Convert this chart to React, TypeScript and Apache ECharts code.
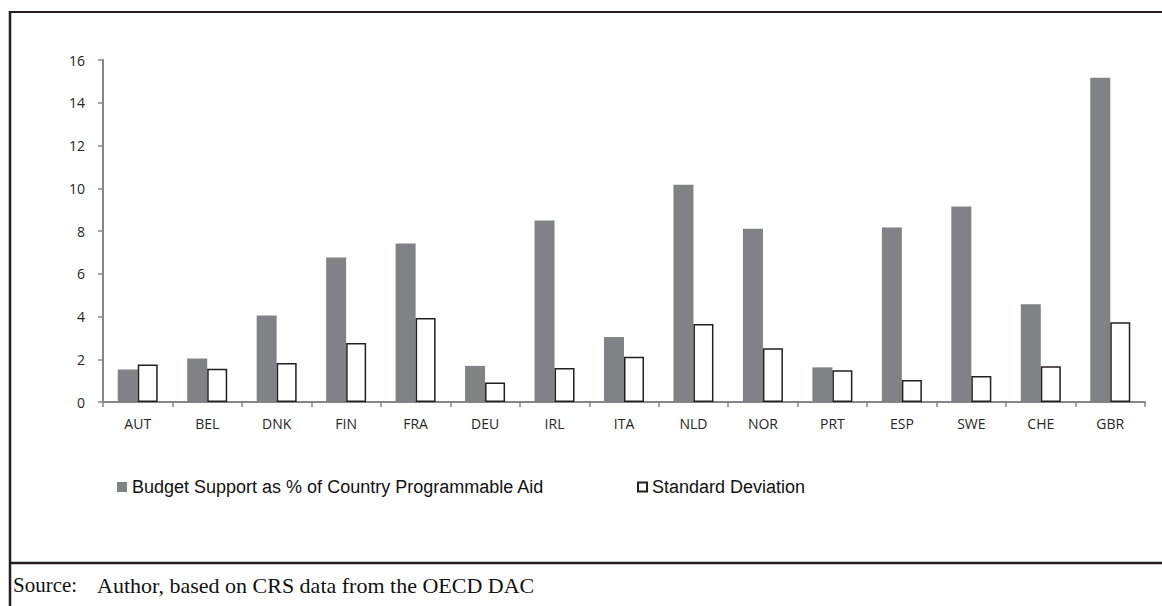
import React, { useEffect, useRef } from "react";
import * as echarts from "echarts";

const countries = ["AUT", "BEL", "DNK", "FIN", "FRA", "DEU", "IRL", "ITA", "NLD", "NOR", "PRT", "ESP", "SWE", "CHE", "GBR"];
const budgetSupport = [1.52, 2.03, 4.05, 6.76, 7.42, 1.69, 8.49, 3.04, 10.16, 8.1, 1.62, 8.16, 9.15, 4.57, 15.17];
const standardDeviation = [1.76, 1.55, 1.83, 2.76, 3.93, 0.91, 1.59, 2.12, 3.65, 2.51, 1.48, 1.03, 1.22, 1.67, 3.73];
const seriesNames = ["Budget Support as % of Country Programmable Aid", "Standard Deviation"];
const yTicks = { min: 0, max: 16, interval: 2 };
const sourceLabel = "Source:";
const sourceText = "Author, based on CRS data from the OECD DAC";

export default function App() {
  const ref = useRef<HTMLDivElement>(null);
  useEffect(() => {
    document.body.style.margin = "0";
    const chart = echarts.init(ref.current!, null, { renderer: "svg" });
    const frame = "#231f20";
    const axisGray = "#868686";
    chart.setOption({
      animation: false,
      backgroundColor: "#ffffff",
      grid: { left: 103, right: 17, top: 60, bottom: 204, containLabel: false },
      legend: [
        {
          left: 117,
          top: 478,
          padding: 0,
          itemWidth: 10,
          itemHeight: 10,
          icon: "rect",
          data: [seriesNames[0]],
          textStyle: { fontFamily: "Liberation Sans", fontSize: 18, color: "#111" },
        },
        {
          left: 637,
          top: 478,
          padding: 0,
          itemWidth: 9,
          itemHeight: 9,
          icon: "rect",
          data: [seriesNames[1]],
          textStyle: { fontFamily: "Liberation Sans", fontSize: 18, color: "#111" },
        },
      ],
      xAxis: {
        type: "category",
        data: countries,
        axisLine: { lineStyle: { color: axisGray, width: 2 } },
        axisTick: { show: true, length: 5, lineStyle: { color: axisGray, width: 1.5 } },
        axisLabel: { fontFamily: "Open Sans", fontSize: 14, color: "#262626", margin: 14 },
      },
      yAxis: {
        type: "value",
        min: yTicks.min,
        max: yTicks.max,
        interval: yTicks.interval,
        splitLine: { show: false },
        axisLine: { show: true, lineStyle: { color: axisGray, width: 2 } },
        axisTick: { show: true, length: 5, lineStyle: { color: axisGray, width: 1.5 } },
        axisLabel: { fontFamily: "Open Sans", fontSize: 14, color: "#262626", margin: 18 },
      },
      series: [
        {
          name: seriesNames[0],
          type: "bar",
          data: budgetSupport,
          barWidth: 20,
          barGap: "0%",
          itemStyle: { color: "#808285" },
        },
        {
          name: seriesNames[1],
          type: "bar",
          data: standardDeviation,
          barWidth: 20,
          barGap: "0%",
          itemStyle: { color: "#ffffff", borderColor: frame, borderWidth: 1.5 },
        },
      ],
      graphic: [
        { type: "line", shape: { x1: 10, y1: 12, x2: 1162, y2: 12 }, style: { stroke: frame, lineWidth: 2 } },
        { type: "line", shape: { x1: 10, y1: 11, x2: 10, y2: 606 }, style: { stroke: frame, lineWidth: 2.5 } },
        { type: "line", shape: { x1: 10, y1: 563, x2: 1162, y2: 563 }, style: { stroke: frame, lineWidth: 2.5 } },
        {
          type: "text",
          left: 13,
          top: 574,
          style: { text: sourceLabel, font: "21px 'Liberation Serif'", fill: "#111" },
        },
        {
          type: "text",
          left: 97,
          top: 574,
          style: { text: sourceText, font: "22px 'Liberation Serif'", fill: "#111" },
        },
      ],
    });
    return () => chart.dispose();
  }, []);
  return <div ref={ref} style={{ position: "fixed", left: 0, top: 0, width: 1162, height: 606 }} />;
}
